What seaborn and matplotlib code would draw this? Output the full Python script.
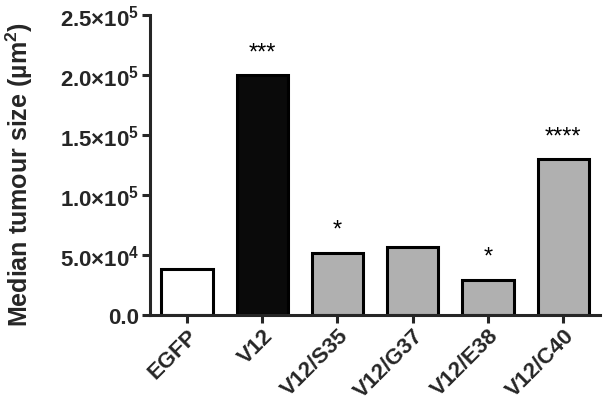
import numpy as np
import pandas as pd
import matplotlib
matplotlib.use("Agg")
import matplotlib.pyplot as plt
import seaborn as sns
from matplotlib.ticker import FixedLocator, FuncFormatter

# dane
grupy = ["EGFP", "V12", "V12/S35", "V12/G37", "V12/E38", "V12/C40"]
mediana = [38300, 200000, 51700, 56400, 29200, 130000]
gwiazdki = ["", "***", "*", "", "*", "****"]
kolory = ["#ffffff", "#0a0a0a", "#b0b0b0", "#b0b0b0", "#b0b0b0", "#b0b0b0"]

df = pd.DataFrame({"grupa": grupy, "mediana": mediana})

sns.set_style("ticks")
plt.rcParams["font.family"] = ["Liberation Sans", "DejaVu Sans"]
plt.rcParams["mathtext.fontset"] = "custom"
plt.rcParams["mathtext.rm"] = "Liberation Sans:bold"
plt.rcParams["mathtext.bf"] = "Liberation Sans:bold"
plt.rcParams["mathtext.it"] = "Liberation Sans:bold"

fig = plt.figure(figsize=(6.05, 4.06), dpi=100)
ax = fig.add_axes([0.248, 0.222, 0.744, 0.739])

sns.barplot(data=df, x="grupa", y="mediana", hue="grupa",
            palette=kolory, legend=False, width=0.68,
            edgecolor="black", linewidth=2.2, saturation=1, ax=ax)

# gwiazdki nad slupkami
for i, (v, s) in enumerate(zip(mediana, gwiazdki)):
    if s:
        ax.text(i, v + 19000, s, ha="center", va="center",
                fontsize=17, color="black")

ax.set_ylim(0, 250000)
ax.set_xlim(-0.49, 5.49)
ax.yaxis.set_major_locator(FixedLocator([0, 50000, 100000, 150000, 200000, 250000]))

def fmt(v, pos):
    if v == 0:
        return "0.0"
    e = int(np.floor(np.log10(v)))
    m = v / 10 ** e
    return r"$%.1f{\times}10^{%d}$" % (m, e)

ax.yaxis.set_major_formatter(FuncFormatter(fmt))

ax.set_xlabel("")
ax.set_ylabel(r"Median tumour size (µm$^2$)", fontsize=18, fontweight="bold")
ax.yaxis.set_label_coords(-0.255, 0.47)

for lab in ax.get_yticklabels():
    lab.set_fontsize(16)
    lab.set_fontweight("bold")
ax.set_xticks(range(len(grupy)))
ax.set_xticklabels(grupy, rotation=45, ha="right", rotation_mode="anchor",
                   fontsize=16, fontweight="bold")

ax.tick_params(axis="both", width=2.2, length=6, pad=2)
ax.tick_params(axis="x", pad=1)
for sp in ["left", "bottom"]:
    ax.spines[sp].set_linewidth(2.2)
sns.despine(ax=ax)

fig.savefig("out.png", dpi=100)
